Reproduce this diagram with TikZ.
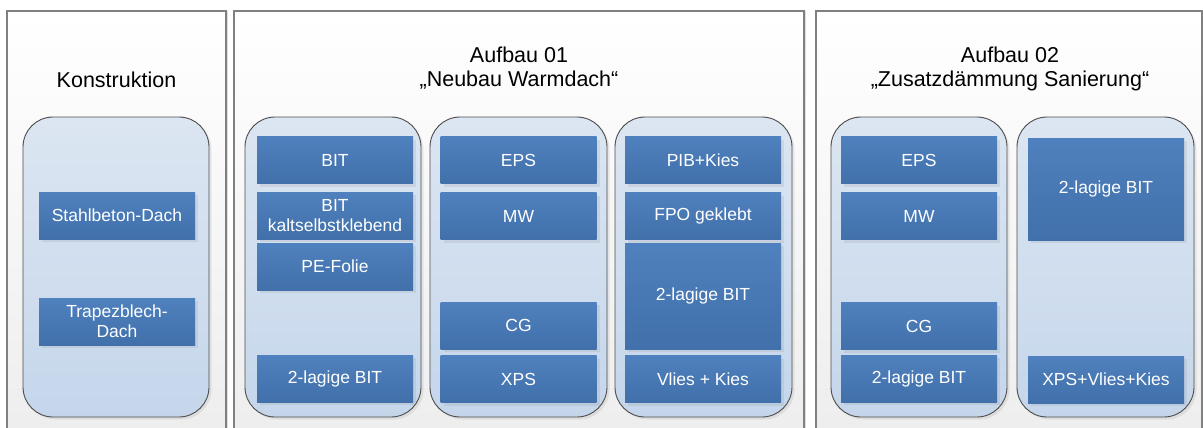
\documentclass[tikz,border=0pt]{standalone}
\usepackage{fontspec}
\setmainfont{Liberation Sans}
\usetikzlibrary{shadows}
\definecolor{layTop}{HTML}{4F81BE}
\definecolor{layBot}{HTML}{4170AA}
\definecolor{colTop}{HTML}{DCE6F2}
\definecolor{colBot}{HTML}{C5D6EB}

\begin{document}
\begin{tikzpicture}[x=1pt,y=-1pt,
  panel/.style={draw=black!50,line width=1.2pt,top color=white,bottom color=black!7,
    drop shadow={shadow xshift=2pt,shadow yshift=0pt,opacity=0.25}},
  column/.style={draw=black!70,line width=0.9pt,rounded corners=30pt,top color=colTop,bottom color=colBot,
    drop shadow={shadow xshift=2.5pt,shadow yshift=-2.5pt,opacity=0.15}},
  layer/.style={rectangle,minimum width=156pt,minimum height=47pt,inner sep=0pt,text=white,
    top color=layTop,bottom color=layBot,align=center,font=\fontsize{17.5}{20}\selectfont,
    drop shadow={shadow xshift=3pt,shadow yshift=-3pt,opacity=0.15}},
  heading/.style={align=center,font=\fontsize{21.5}{24}\selectfont}]
\path[use as bounding box,clip] (0,0) rectangle (1203,428);

% panels
\draw[panel] (7,11) rectangle (226,445);
\draw[panel] (234,11) rectangle (804,445);
\draw[panel] (816,11) rectangle (1202,445);

\node[heading] (konst) at (116.5,80) {Konstruktion};
\node[heading] (auf1) at (519,68.5) {Aufbau 01\\„Neubau Warmdach“};
\node[heading] (auf2) at (1010,68.5) {Aufbau 02\\„Zusatzdämmung Sanierung“};

% columns
\draw[column] (23,117) rectangle (209,417);
\draw[column] (245,117) rectangle (421,417);
\draw[column] (430,117) rectangle (607,417);
\draw[column] (615,117) rectangle (792,417);
\draw[column] (831,117) rectangle (1007,417);
\draw[column] (1017,117) rectangle (1194,417);

% Konstruktion
\node[layer] (stahl) at (117,215.5) {Stahlbeton-Dach};
\node[layer] (trapez) at (117,321.5) {Trapezblech-\\Dach};

% Aufbau 01
\node[layer] (bit) at (335,160) {BIT};
\node[layer] (bitks) at (335,215.5) {BIT\\kaltselbstklebend};
\node[layer] (pe) at (335,266.5) {PE-Folie};
\node[layer] (bitA) at (335,378.5) {2-lagige BIT};

\node[layer] (eps) at (518.5,160) {EPS};
\node[layer] (mw) at (518.5,216) {MW};
\node[layer] (cg) at (518.5,325.5) {CG};
\node[layer] (xps) at (518.5,379) {XPS};

\node[layer] (pib) at (703,160) {PIB+Kies};
\node[layer] (fpo) at (703,216) {FPO geklebt};
\node[layer,minimum height=106pt] (bitB) at (703,296) {2-lagige BIT};
\node[layer] (vlies) at (703,379) {Vlies + Kies};

% Aufbau 02
\node[layer] (eps2) at (919,160) {EPS};
\node[layer] (mw2) at (919,216) {MW};
\node[layer] (cg2) at (919,326) {CG};
\node[layer] (bitC) at (919,378.5) {2-lagige BIT};

\node[layer,minimum height=102pt] (bitD) at (1106,189) {2-lagige BIT};
\node[layer] (xvk) at (1106,379.5) {XPS+Vlies+Kies};
\end{tikzpicture}
\end{document}
